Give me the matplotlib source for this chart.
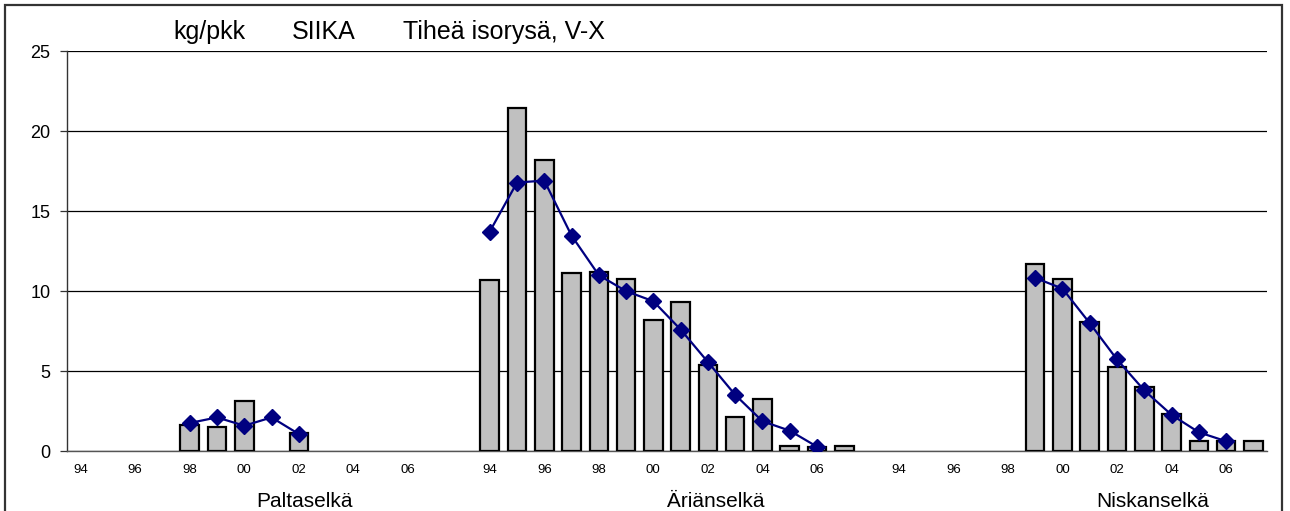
import numpy as np
import matplotlib
matplotlib.use("Agg")
import matplotlib.pyplot as plt
from matplotlib.patches import Rectangle

plt.rcParams['font.family'] = ['Liberation Sans', 'DejaVu Sans']

years = ['94', '95', '96', '97', '98', '99', '00', '01', '02', '03', '04', '05', '06', '07']
tick_labels = [y if i % 2 == 0 else '' for i, y in enumerate(years)]
groups = ['Paltaselkä', 'Äriänselkä', 'Niskanselkä']
nan = np.nan

palta_bars = [nan, nan, nan, nan, 1.63, 1.52, 3.15, nan, 1.10, nan, nan, nan, nan, nan]
palta_line = [nan, nan, nan, nan, 1.75, 2.10, 1.58, 2.10, 1.06, nan, nan, nan, nan, nan]
aria_bars = [10.68, 21.44, 18.20, 11.10, 11.18, 10.74, 8.17, 9.32, 5.35, 2.11, 3.22, 0.33, 0.23, 0.29]
aria_line = [13.71, 16.78, 16.90, 13.46, 10.99, 9.99, 9.36, 7.59, 5.56, 3.51, 1.86, 1.27, 0.27, nan]
niska_bars = [nan, nan, nan, nan, nan, 11.66, 10.78, 8.09, 5.22, 4.00, 2.33, 0.65, 0.61, 0.61]
niska_line = [nan, nan, nan, nan, nan, 10.82, 10.15, 7.99, 5.72, 3.79, 2.26, 1.17, 0.61, nan]

bars_all = [palta_bars, aria_bars, niska_bars]
lines_all = [palta_line, aria_line, niska_line]

W, H = 1290, 511
fig = plt.figure(figsize=(W / 100, H / 100), dpi=100)
ax = fig.add_axes([67 / W, (H - 451) / H, 1200 / W, 400 / H])

n = len(years)
step = n + 1
xt, xl = [], []
for g in range(3):
    x = np.arange(n) + g * step
    ax.bar(x, bars_all[g], width=0.68, color='#C0C0C0', edgecolor='black',
           linewidth=1.6, zorder=3)
    ax.plot(x, lines_all[g], color='#000080', lw=1.6, marker='D', ms=8.5,
            mfc='#000080', mec='#000080', zorder=4)
    xt.extend(list(x))
    xl.extend(tick_labels)

ax.set_xlim(-0.5, 3 * n + 2 - 0.5)
ax.set_ylim(0, 25)
ax.set_yticks([0, 5, 10, 15, 20, 25])
ax.set_xticks(xt)
ax.set_xticklabels(xl, fontsize=9.5)
ax.tick_params(axis='x', length=0, pad=9)
ax.tick_params(axis='y', length=5, width=0.9, color='#333333', labelsize=13, pad=7, direction='out')
ax.yaxis.grid(True, color='black', lw=0.9, zorder=1)
ax.set_axisbelow(True)
for s in ['top', 'right']:
    ax.spines[s].set_visible(False)
ax.spines['left'].set_color('#333333')
ax.spines['left'].set_linewidth(1.0)
ax.spines['bottom'].set_color('#555555')
ax.spines['bottom'].set_linewidth(1.0)
ax.set_facecolor('none')

# title pieces
yb = (H - 39) / H
fig.text(173 / W, yb, 'kg/pkk', fontsize=18, va='baseline', ha='left')
fig.text(292 / W, yb, 'SIIKA', fontsize=18, va='baseline', ha='left')
fig.text(403 / W, yb, 'Tiheä isorysä, V-X', fontsize=18, va='baseline', ha='left')

# group labels
yg = (H - 507) / H
for name, cx in zip(groups, [305, 716, 1153]):
    fig.text(cx / W, yg, name, fontsize=15, va='baseline', ha='center')

# figure border
fig.patches.append(Rectangle((5 / W, -0.1), (1282 - 5) / W, (H - 5) / H + 0.1,
                             transform=fig.transFigure, fill=False,
                             edgecolor='#333333', lw=1.6, zorder=10))

fig.savefig('out.png', dpi=100)
